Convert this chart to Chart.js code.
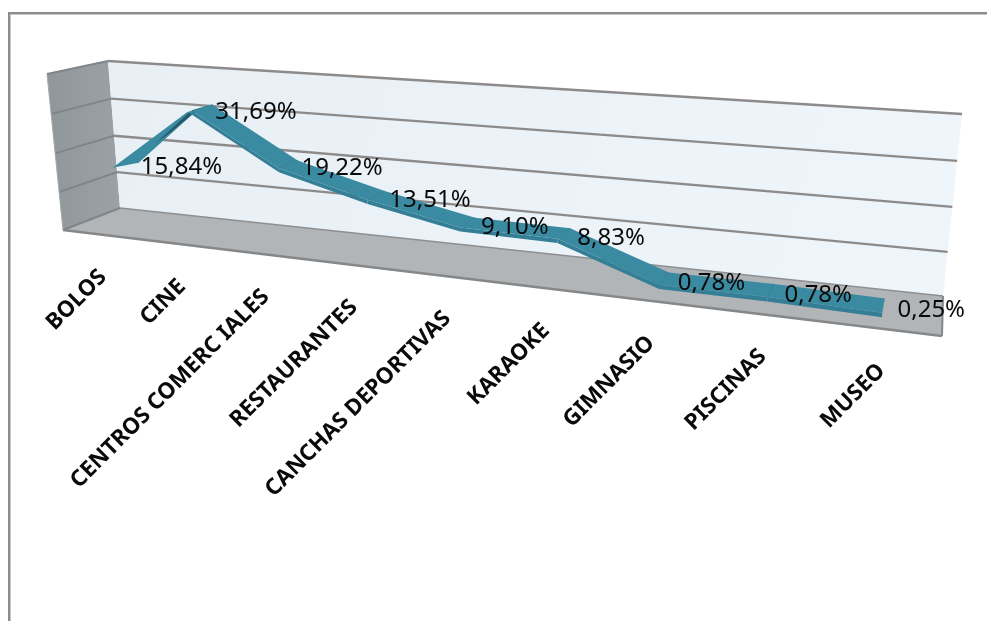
<!DOCTYPE html>
<html>
<head>
<meta charset="utf-8">
<style>
  html, body { margin: 0; padding: 0; background: #ffffff; }
  #frame { position: absolute; left: 8px; top: 12px; width: 979px; height: 609px; box-sizing: border-box;
           border-left: 2px solid #8c8c8c; border-top: 2px solid #8c8c8c; box-shadow: inset 1px 1px 0 #c6c6c6; }
  #chartBox { position: absolute; left: 0; top: 0; width: 987px; height: 621px; }
  canvas { display: block; }
</style>
<script src="https://cdn.jsdelivr.net/npm/chart.js@4"></script>
</head>
<body>
<div id="frame"></div>
<div id="chartBox"><canvas id="activityChart" width="987" height="621"></canvas></div>
<script>
const categories = ['BOLOS', 'CINE', 'CENTROS COMERC IALES', 'RESTAURANTES', 'CANCHAS DEPORTIVAS',
    'KARAOKE', 'GIMNASIO', 'PISCINAS', 'MUSEO'];
const percentages = [15.84, 31.69, 19.22, 13.51, 9.10, 8.83, 0.78, 0.78, 0.25];
const valueLabels = ['15,84%', '31,69%', '19,22%', '13,51%', '9,10%', '8,83%', '0,78%', '0,78%', '0,25%'];
const axisMax = 40;
const axisStep = 10;

// Corners of the box, as [left top, right top, right bottom, left bottom]
const backWall = [[108, 61], [962, 114], [943, 296], [120, 208]];
const frontFace = [[47, 74], [963, 136], [942, 336], [63, 230]];

// Where the ribbon sits between the back wall (0) and the front face (1)
const ribbonBack = 0.25;
const ribbonFront = 0.62;
const ribbonLip = 0.70;
const ribbonThickness = 1.0;

function lerpPoint(a, b, t) {
    return [a[0] + (b[0] - a[0]) * t, a[1] + (b[1] - a[1]) * t];
}

function lerpQuad(a, b, t) {
    return a.map((p, i) => lerpPoint(p, b[i], t));
}

// Homography from the unit square onto a quad
function squareToQuad(q) {
    const [[x0, y0], [x1, y1], [x2, y2], [x3, y3]] = q;
    const dx1 = x1 - x2, dx2 = x3 - x2, sx = x0 - x1 + x2 - x3;
    const dy1 = y1 - y2, dy2 = y3 - y2, sy = y0 - y1 + y2 - y3;
    const den = dx1 * dy2 - dx2 * dy1;
    const g = (sx * dy2 - dx2 * sy) / den;
    const h = (dx1 * sy - sx * dy1) / den;
    const a = x1 - x0 + g * x1, b = x3 - x0 + h * x3, c = x0;
    const d = y1 - y0 + g * y1, e = y3 - y0 + h * y3, f = y0;
    return (u, v) => {
        const w = g * u + h * v + 1;
        return [(a * u + b * v + c) / w, (d * u + e * v + f) / w];
    };
}

function project(u, v, depth) {
    return squareToQuad(lerpQuad(backWall, frontFace, depth))(u, 1 - v);
}

function poly(ctx, pts, fill) {
    ctx.beginPath();
    pts.forEach((p, i) => i ? ctx.lineTo(p[0], p[1]) : ctx.moveTo(p[0], p[1]));
    ctx.closePath();
    ctx.fillStyle = fill;
    ctx.fill();
}

function segment(ctx, a, b, color, width) {
    ctx.beginPath();
    ctx.moveTo(a[0], a[1]);
    ctx.lineTo(b[0], b[1]);
    ctx.strokeStyle = color;
    ctx.lineWidth = width;
    ctx.stroke();
}

const perspectivePlugin = {
    id: 'perspective',
    beforeDatasetsDraw(chart) {
        const { ctx, chartArea: area, scales: { x, y } } = chart;
        const toU = i => (x.getPixelForValue(i) - area.left) / area.width;
        const toV = val => (area.bottom - y.getPixelForValue(val)) / area.height;
        const wall = (u, v) => project(u, v, 0);
        const side = (v, depth) => project(0, v, depth);

        ctx.save();
        ctx.lineJoin = 'round';

        // left wall, floor and back wall
        const sideFill = ctx.createLinearGradient(47, 0, 120, 0);
        sideFill.addColorStop(0, '#90979a');
        sideFill.addColorStop(1, '#9ba1a4');
        poly(ctx, [side(1, 1), side(1, 0), side(0, 0), side(0, 1)], sideFill);
        poly(ctx, [project(0, 0, 0), project(1, 0, 0), project(1, 0, 1), project(0, 0, 1)], '#b1b5b8');
        const wallFill = ctx.createLinearGradient(120, 60, 940, 300);
        wallFill.addColorStop(0, '#e8eff5');
        wallFill.addColorStop(1, '#eef5fb');
        poly(ctx, [wall(0, 1), wall(1, 1), wall(1, 0), wall(0, 0)], wallFill);

        // gridlines from the value axis ticks
        y.ticks.forEach(t => {
            const v = toV(t.value);
            if (v > 0) segment(ctx, wall(0, v), wall(1, v), '#8d8a8a', 2.4);
            segment(ctx, side(v, 1), side(v, 0), '#7f8588', 2);
        });
        segment(ctx, wall(0, 0), wall(1, 0), '#8d8f91', 1.5);
        segment(ctx, project(0, 0, 1), project(1, 0, 1), '#858788', 2.5);
        segment(ctx, project(1, 0, 0), project(1, 0, 1), '#858788', 2);
        segment(ctx, side(1, 1), side(0, 1), '#a5a9ab', 1);

        // ribbon, one piece per pair of neighbouring categories
        const pts = percentages.map((val, i) => {
            const u = toU(i), v = toV(val), low = toV(val - ribbonThickness);
            return {
                back: project(u, v, ribbonBack),
                backUnder: project(u, low, ribbonBack),
                front: project(u, v, ribbonFront),
                lip: project(u, v, ribbonLip),
                under: project(u, low, ribbonFront)
            };
        });
        for (let i = 0; i < pts.length - 1; i++) {
            const a = pts[i], b = pts[i + 1];
            if (percentages[i + 1] > percentages[i]) {
                // a rising piece shows its underside as a dark stripe
                const at = (s, t) => lerpPoint(lerpPoint(a.lip, b.lip, s), lerpPoint(a.backUnder, b.under, s), t);
                poly(ctx, [a.lip, a.backUnder, b.under, b.back, b.lip], '#3a8aa1');
                poly(ctx, [at(0.4, 0.72), at(1, 0.3), at(1, 0.95), at(0.7, 0.88)], '#28586a');
            } else {
                poly(ctx, [a.front, b.front, b.under, a.under], '#347f96');
                poly(ctx, [a.back, b.back, b.front, a.front], '#3a8aa1');
            }
        }
        for (let i = 1; i < pts.length - 1; i++) {
            segment(ctx, pts[i].back, pts[i].front, '#357e93', 1);
        }

        // data labels
        ctx.font = '24px "Noto Sans"';
        ctx.fillStyle = '#0a0a0a';
        ctx.textAlign = 'left';
        ctx.textBaseline = 'middle';
        percentages.forEach((val, i) => {
            const p = project(toU(i), toV(val), 0.45);
            ctx.fillText(valueLabels[i], p[0] + 14, p[1] + 4);
        });

        // category labels under the front edge of the floor
        ctx.font = 'bold 22.4px "Noto Sans"';
        ctx.textAlign = 'right';
        categories.forEach((name, i) => {
            const p = project(toU(i), 0, 1);
            ctx.save();
            ctx.translate(p[0] + 2, p[1] + 39);
            ctx.rotate(-Math.PI / 4);
            ctx.fillText(x.getLabelForValue(i), 0, 0);
            ctx.restore();
        });
        ctx.restore();
    }
};

new Chart(document.getElementById('activityChart'), {
    type: 'line',
    data: {
        labels: categories,
        datasets: [{
            label: 'Actividades',
            data: percentages,
            showLine: false,
            pointRadius: 0
        }]
    },
    options: {
        responsive: false,
        animation: false,
        events: [],
        layout: { padding: 0 },
        plugins: { legend: { display: false }, tooltip: { enabled: false } },
        scales: {
            x: { type: 'category', offset: true, display: false },
            y: { min: 0, max: axisMax, ticks: { stepSize: axisStep }, display: false }
        }
    },
    plugins: [perspectivePlugin]
});
</script>
</body>
</html>
